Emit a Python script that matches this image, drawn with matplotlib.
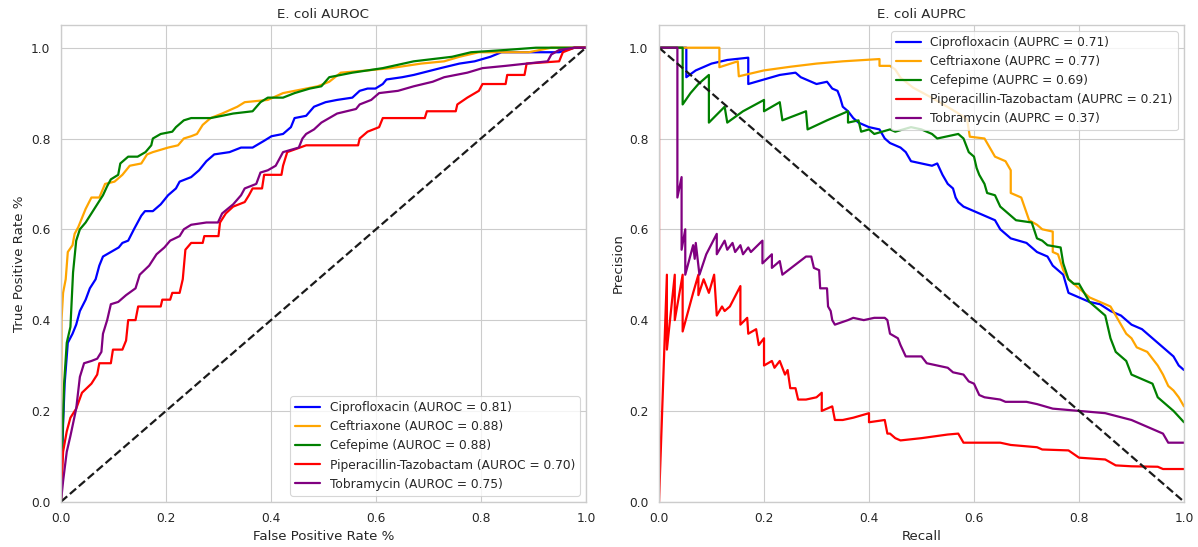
import numpy as np
import matplotlib
matplotlib.use("Agg")
import matplotlib.pyplot as plt
import seaborn as sns

drugs = ["Ciprofloxacin", "Ceftriaxone", "Cefepime", "Piperacillin-Tazobactam", "Tobramycin"]
colors = ["blue", "orange", "green", "red", "purple"]
auroc = [0.81, 0.88, 0.88, 0.70, 0.75]
auprc = [0.71, 0.77, 0.69, 0.21, 0.37]

# -> ROC curves
cipro_fpr = [0, .004, .007, .013, .022, .029, .036, .047, .055, .066, .073, .08, .095, .11, .117, .128, .139, .153, .16, .175, .19, .204, .219, .226, .248, .263, .277, .292, .321, .343, .365, .387, .401, .423, .438, .445, .467, .482, .504, .526, .555, .569, .584, .599, .613, .62, .65, .672, .723, .759, .788, .818, .839, .869, .949, .978, 1]
cipro_tpr = [0, .17, .26, .35, .37, .39, .42, .445, .47, .49, .52, .54, .55, .56, .57, .575, .60, .63, .64, .64, .655, .675, .69, .705, .715, .73, .75, .765, .77, .78, .78, .795, .805, .81, .825, .845, .85, .87, .88, .885, .89, .905, .91, .91, .92, .93, .935, .94, .955, .965, .97, .98, .99, .99, .99, 1, 1]

ceftri_fpr = [0, .001, .004, .009, .013, .022, .026, .033, .04, .047, .058, .073, .084, .102, .117, .131, .153, .164, .175, .204, .223, .234, .248, .259, .27, .285, .307, .336, .35, .394, .423, .467, .489, .511, .533, .584, .628, .686, .73, .759, .796, .891, .934, 1]
ceftri_tpr = [0, .40, .46, .49, .55, .565, .59, .605, .625, .645, .67, .67, .70, .705, .72, .74, .745, .765, .77, .78, .785, .80, .805, .81, .83, .845, .855, .87, .88, .885, .90, .91, .915, .925, .945, .95, .955, .965, .97, .98, .99, .99, 1, 1]

cefep_fpr = [0, .002, .006, .011, .018, .023, .029, .036, .047, .058, .069, .08, .088, .095, .109, .113, .128, .146, .161, .172, .175, .19, .212, .219, .234, .248, .285, .307, .328, .365, .38, .394, .423, .445, .474, .496, .511, .555, .613, .672, .745, .781, .847, .905, 1]
cefep_tpr = [0, .11, .26, .35, .385, .505, .575, .60, .615, .635, .655, .675, .695, .71, .72, .745, .76, .76, .77, .785, .80, .81, .815, .825, .84, .845, .845, .85, .855, .86, .88, .89, .89, .90, .91, .915, .935, .945, .955, .97, .98, .99, .995, 1, 1]

pip_fpr = [0, .004, .011, .018, .029, .04, .058, .069, .073, .095, .099, .117, .124, .128, .142, .147, .19, .193, .208, .212, .226, .232, .237, .248, .27, .273, .30, .303, .314, .328, .35, .358, .365, .383, .387, .42, .423, .431, .467, .566, .569, .584, .606, .613, .693, .697, .752, .755, .774, .796, .803, .847, .85, .883, .887, .949, .956, .978, 1]
pip_tpr = [0, .11, .155, .185, .205, .24, .26, .28, .305, .305, .335, .335, .355, .40, .40, .43, .43, .445, .445, .46, .46, .49, .555, .57, .57, .585, .585, .615, .635, .65, .66, .675, .69, .69, .72, .72, .74, .77, .785, .785, .80, .815, .825, .845, .845, .86, .86, .875, .89, .905, .92, .92, .94, .94, .965, .97, .99, 1, 1]

tobra_fpr = [0, .004, .011, .018, .029, .036, .044, .058, .069, .077, .08, .088, .095, .109, .124, .142, .15, .168, .182, .197, .208, .226, .234, .248, .277, .299, .307, .328, .343, .35, .372, .38, .394, .409, .423, .438, .453, .46, .467, .482, .496, .511, .526, .562, .569, .591, .606, .642, .657, .672, .708, .73, .774, .803, .847, .927, .934, .949, .978, 1]
tobra_tpr = [0, .045, .11, .145, .205, .275, .305, .31, .315, .33, .37, .40, .435, .44, .455, .47, .50, .52, .545, .56, .575, .585, .60, .61, .615, .615, .635, .655, .675, .69, .70, .725, .73, .74, .77, .775, .78, .80, .81, .82, .835, .845, .855, .865, .875, .885, .90, .905, .91, .915, .925, .935, .945, .955, .96, .97, .985, .995, 1, 1]

# -> Precision-recall curves
cipro_rec = [0, .052, .052, .07, .1, .13, .17, .17, .2, .23, .26, .27, .28, .29, .3, .32, .33, .34, .345, .35, .36, .37, .38, .39, .4, .42, .43, .44, .46, .47, .48, .5, .52, .53, .54, .55, .56, .565, .57, .58, .6, .62, .64, .65, .67, .7, .71, .72, .74, .75, .77, .78, .8, .82, .84, .86, .88, .9, .92, .94, .96, .98, .99, 1]
cipro_prec = [1, 1, .935, .95, .965, .973, .978, .92, .93, .94, .945, .935, .93, .925, .92, .925, .91, .905, .89, .87, .86, .845, .835, .83, .825, .82, .80, .79, .78, .77, .75, .745, .74, .745, .72, .70, .69, .67, .66, .65, .64, .63, .62, .60, .58, .57, .56, .55, .54, .52, .50, .46, .45, .44, .435, .42, .41, .39, .38, .36, .34, .32, .30, .29]

ceftri_rec = [0, .115, .115, .15, .152, .2, .25, .3, .35, .42, .42, .44, .45, .46, .484, .516, .549, .568, .587, .592, .62, .63, .64, .66, .67, .67, .69, .705, .72, .73, .75, .75, .76, .77, .78, .8, .82, .84, .86, .87, .88, .89, .9, .91, .93, .95, .96, .97, .98, .99, 1]
ceftri_prec = [1, 1, .957, .97, .937, .95, .958, .965, .97, .975, .96, .96, .952, .934, .912, .892, .87, .857, .842, .804, .80, .78, .76, .75, .73, .68, .67, .62, .61, .60, .595, .55, .545, .51, .49, .47, .45, .44, .43, .41, .39, .37, .36, .34, .33, .30, .28, .255, .245, .23, .21]

cefep_rec = [0, .045, .045, .06, .075, .095, .095, .125, .13, .16, .2, .2, .23, .235, .28, .283, .32, .36, .36, .38, .385, .4, .41, .44, .45, .48, .5, .52, .53, .57, .58, .59, .6, .605, .61, .62, .625, .64, .65, .67, .68, .71, .72, .73, .74, .765, .77, .78, .79, .8, .82, .83, .84, .85, .86, .87, .88, .89, .9, .92, .94, .95, .97, .98, 1]
cefep_prec = [1, 1, .875, .90, .92, .94, .835, .87, .835, .86, .885, .86, .88, .84, .86, .82, .84, .86, .835, .84, .815, .82, .81, .82, .815, .825, .82, .81, .80, .81, .80, .77, .76, .735, .72, .70, .68, .675, .65, .63, .62, .615, .58, .575, .565, .56, .525, .49, .48, .48, .44, .43, .42, .41, .36, .33, .32, .31, .28, .27, .26, .23, .21, .20, .175]

pip_rec = [0, 0, .015, .015, .03, .03, .045, .045, .065, .075, .075, .085, .095, .105, .11, .12, .125, .135, .155, .155, .168, .17, .185, .19, .2, .2, .215, .22, .23, .24, .245, .25, .26, .265, .28, .3, .31, .31, .33, .335, .35, .37, .4, .4, .43, .435, .44, .45, .46, .5, .55, .57, .58, .65, .67, .72, .73, .78, .8, .85, .87, .9, .95, .96, 1]
pip_prec = [1, 0, .50, .335, .50, .40, .50, .375, .46, .50, .455, .49, .46, .50, .41, .43, .42, .43, .475, .39, .405, .37, .38, .345, .36, .30, .31, .295, .31, .28, .29, .25, .25, .225, .225, .23, .24, .20, .21, .18, .18, .185, .195, .175, .18, .15, .15, .14, .135, .14, .148, .15, .13, .13, .125, .12, .115, .113, .097, .093, .08, .078, .077, .072, .072]

tobra_rec = [0, .035, .035, .043, .043, .05, .05, .065, .068, .07, .077, .09, .11, .11, .125, .13, .14, .145, .155, .16, .17, .175, .197, .197, .215, .215, .23, .235, .28, .29, .295, .305, .307, .32, .322, .327, .33, .335, .36, .37, .39, .41, .43, .435, .44, .455, .46, .47, .5, .51, .53, .55, .56, .58, .59, .6, .61, .62, .65, .66, .7, .72, .75, .8, .85, .9, .93, .96, .97, 1]
tobra_prec = [1, 1, .67, .715, .555, .60, .50, .565, .535, .57, .50, .545, .59, .545, .575, .555, .57, .55, .565, .545, .56, .55, .575, .525, .545, .515, .53, .50, .54, .54, .515, .51, .47, .47, .43, .42, .40, .39, .40, .405, .40, .405, .405, .40, .37, .36, .345, .32, .32, .305, .30, .295, .285, .28, .265, .26, .235, .23, .225, .22, .22, .215, .205, .20, .195, .18, .165, .15, .13, .13]

roc_x = [cipro_fpr, ceftri_fpr, cefep_fpr, pip_fpr, tobra_fpr]
roc_y = [cipro_tpr, ceftri_tpr, cefep_tpr, pip_tpr, tobra_tpr]
pr_x = [cipro_rec, ceftri_rec, cefep_rec, pip_rec, tobra_rec]
pr_y = [cipro_prec, ceftri_prec, cefep_prec, pip_prec, tobra_prec]


def main():
    sns.set_theme(style="whitegrid")
    fig = plt.figure(figsize=(1198 / 80, 547 / 80), dpi=80)
    ax1 = fig.add_axes([0.0509, 0.0828, 0.4382, 0.8715])
    ax2 = fig.add_axes([0.5501, 0.0828, 0.4382, 0.8715])

    # -> ROC
    for i, name in enumerate(drugs):
        ax1.plot(roc_x[i], roc_y[i], color=colors[i], lw=2,
                 label=f"{name} (AUROC = {auroc[i]:.2f})")
    ax1.plot([0, 1], [0, 1], "k--", lw=2)
    ax1.set_xlim(0, 1)
    ax1.set_ylim(0, 1.05)
    ax1.set_xlabel("False Positive Rate %")
    ax1.set_ylabel("True Positive Rate %")
    ax1.set_title("E. coli AUROC")
    ax1.legend(loc="lower right")

    # -> PRC
    for i, name in enumerate(drugs):
        ax2.plot(pr_x[i], pr_y[i], color=colors[i], lw=2,
                 label=f"{name} (AUPRC = {auprc[i]:.2f})")
    ax2.plot([0, 1], [1, 0], "k--", lw=2)
    ax2.set_xlim(0, 1)
    ax2.set_ylim(0, 1.05)
    ax2.set_xlabel("Recall")
    ax2.set_ylabel("Precision")
    ax2.set_title("E. coli AUPRC")
    ax2.legend(loc="upper right")

    fig.savefig("out.png", dpi=80)


if __name__ == "__main__":
    main()
